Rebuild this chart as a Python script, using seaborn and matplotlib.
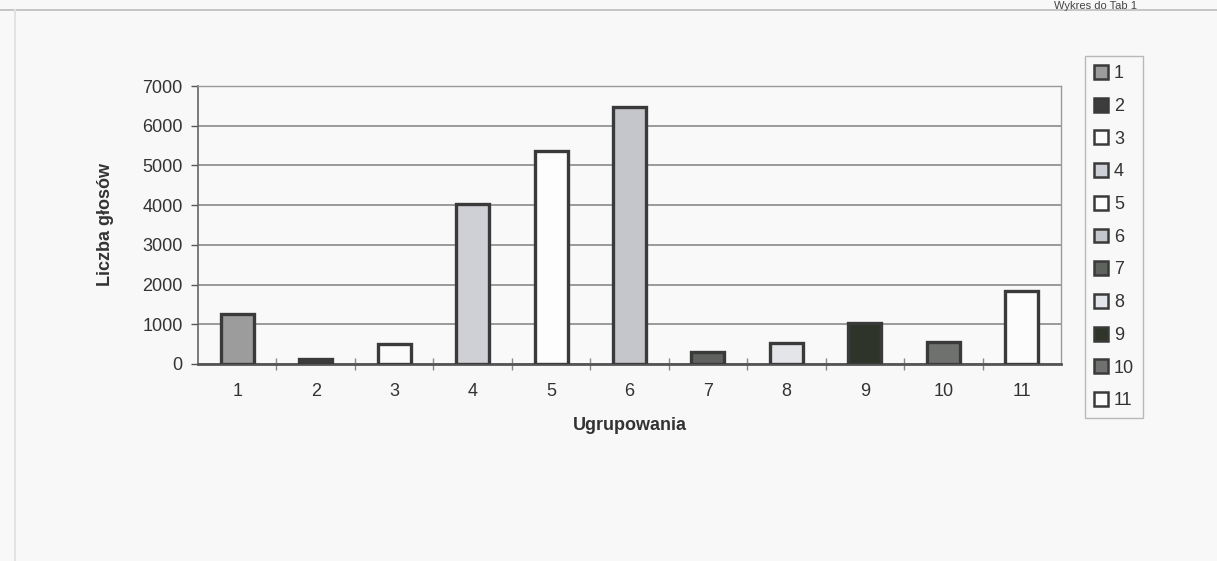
import matplotlib
matplotlib.use("Agg")
import matplotlib.pyplot as plt
from matplotlib.patches import Patch
from matplotlib.lines import Line2D
import seaborn as sns
import pandas as pd

categories = ["1", "2", "3", "4", "5", "6", "7", "8", "9", "10", "11"]
votes = [1250, 120, 500, 4020, 5370, 6460, 290, 520, 1030, 550, 1840]
colors = ["#9c9c9c", "#3c3c3c", "#fbfbfb", "#cdd0d6", "#fdfdfd", "#c3c6cc",
          "#5f635e", "#e2e5ea", "#2f3529", "#6f716f", "#fcfcfc"]
yticks = [0, 1000, 2000, 3000, 4000, 5000, 6000, 7000]

sns.set_style("white")
plt.rcParams["font.family"] = ["Liberation Sans", "DejaVu Sans"]

df = pd.DataFrame({"Ugrupowania": categories, "Liczba": votes})

fig = plt.figure(figsize=(12.17, 5.61), dpi=100)
fig.patch.set_facecolor("#f8f8f9")
ax = fig.add_axes([0.1627, 0.3512, 0.7091, 0.4955])
ax.set_facecolor("#f9f9fa")

sns.barplot(data=df, x="Ugrupowania", y="Liczba", hue="Ugrupowania",
            palette=colors, width=0.42, dodge=False, legend=False,
            edgecolor="#3a3a3a", linewidth=2.4, ax=ax, zorder=3)

ax.set_ylim(0, 7000)
ax.set_xlim(-0.5, len(categories) - 0.5)
ax.set_yticks(yticks)
ax.set_yticklabels([str(v) for v in yticks], fontsize=13, color="#333333")
ax.set_xticks(range(len(categories)))
ax.set_xticklabels(categories, fontsize=13, color="#333333")
ax.tick_params(axis="x", length=0, pad=14)
ax.tick_params(axis="y", length=5, width=1, color="#555555", direction="out", pad=6, left=True)
ax.set_xticks([i + 0.5 for i in range(len(categories) - 1)], minor=True)
ax.tick_params(axis="x", which="minor", length=8, width=1, color="#888888",
               direction="inout", bottom=True)

ax.yaxis.grid(True, color="#8a8a8a", linewidth=1.2, zorder=0)
ax.set_axisbelow(True)
for side in ["top", "right"]:
    ax.spines[side].set_color("#9a9a9a")
    ax.spines[side].set_linewidth(1)
ax.spines["left"].set_color("#666666")
ax.spines["left"].set_linewidth(1.2)
ax.spines["bottom"].set_color("#555555")
ax.spines["bottom"].set_linewidth(2)

ax.set_xlabel("Ugrupowania", fontsize=13, fontweight="bold", color="#333333", labelpad=12)
ax.set_ylabel("Liczba głosów", fontsize=13, fontweight="bold", color="#333333", labelpad=20)

handles = [Patch(facecolor=c, edgecolor="#3a3a3a", linewidth=1.8) for c in colors]
leg = fig.legend(handles, categories, loc="upper left",
                 bbox_to_anchor=(1085 / 1217, 1 - 56 / 561),
                 fontsize=13, frameon=True, fancybox=False,
                 handlelength=0.8, handleheight=0.8, handletextpad=0.3,
                 labelspacing=0.86, borderpad=0.5, borderaxespad=0)
leg.get_frame().set_edgecolor("#aaaaaa")
leg.get_frame().set_facecolor("#f9f9fa")
leg.get_frame().set_linewidth(1)
for t in leg.get_texts():
    t.set_color("#333333")

# page frame lines
fig.add_artist(Line2D([0, 1], [1 - 10 / 561, 1 - 10 / 561], color="#bdbdbd", linewidth=1.2))
fig.add_artist(Line2D([15 / 1217, 15 / 1217], [0, 1 - 10 / 561], color="#e2e2e2", linewidth=1.5))
fig.text(1095 / 1217, 1 - 1 / 561, "Wykres do Tab 1", ha="center", va="top",
         fontsize=8, color="#444444")

fig.savefig("out.png", dpi=100, facecolor=fig.get_facecolor())
